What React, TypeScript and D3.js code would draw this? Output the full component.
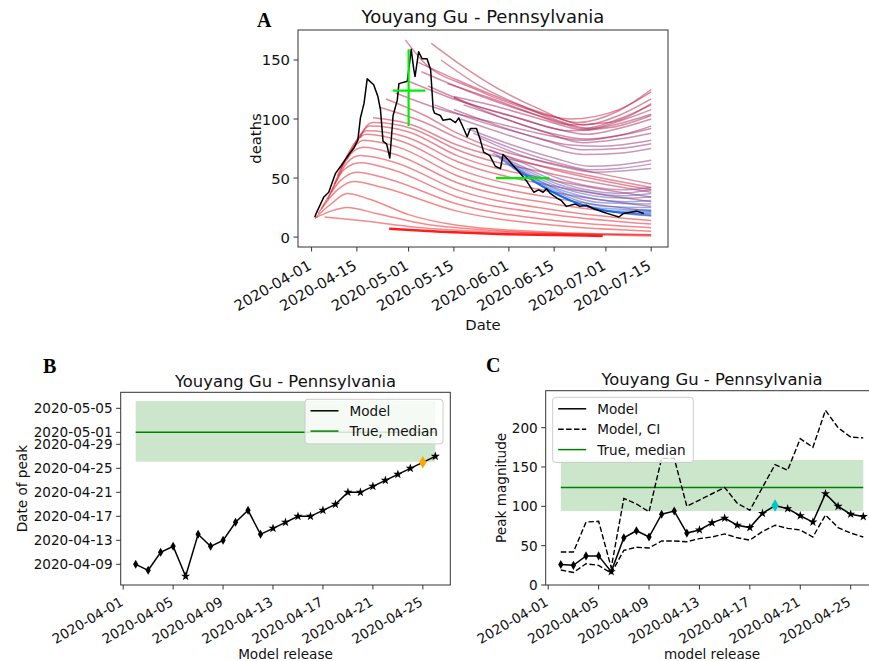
import { useEffect, useRef } from "react";
import * as d3 from "d3";

const FONT = "'DejaVu Sans', sans-serif";
const SERIF = "'Liberation Serif', 'DejaVu Serif', serif";
const TITLE = "Youyang Gu - Pennsylvania";

// ---- Panel A: days after 2020-04-01 -> deaths ----
const observedDeaths: [number, number][] = [
  [1, 17], [1.4, 20], [3.8, 34], [5.3, 38], [7.4, 54], [9, 60], [11, 68], [13, 75],
  [14.3, 82], [15.1, 101], [16.2, 113], [17.2, 134], [19.2, 129], [20.5, 119], [21.3, 108],
  [22.1, 81], [23.2, 79], [24.2, 67], [25.2, 103], [26.5, 116], [27, 130], [29.6, 132],
  [30.8, 159], [31.6, 142], [32, 136], [33.1, 157], [34.2, 151], [35.7, 151], [36.8, 142],
  [37.6, 108], [38, 105], [39.8, 103], [40.6, 99], [42.9, 100], [44.5, 97], [45.5, 101],
  [47, 92], [48.1, 85], [49.1, 92], [51, 92], [52.2, 82], [53.2, 72], [55.1, 69], [56.8, 60],
  [58.4, 58], [59.2, 70], [60.9, 65], [62.5, 60], [64.5, 54], [66.6, 47], [68.7, 38],
  [70.2, 40], [71.6, 38], [72.6, 41], [73.8, 37], [75.9, 33], [77.2, 31], [78.8, 26],
  [81.5, 28], [83, 26], [85, 27], [87.2, 24], [90.3, 21], [92.6, 19], [95, 17], [96.5, 20],
  [98.6, 21], [100.6, 22], [102.7, 20],
];

// forecasts ordered by release (earliest = red, latest = blue)
const earlyForecasts: [number, number][][] = [
  [[1, 16], [6, 28], [11, 37], [18, 32], [30, 19], [45, 10], [75, 4], [105, 2]],
  [[1, 16], [6, 22], [11, 25], [20, 20], [35, 11], [60, 5], [105, 1]],
  [[4, 17], [15, 14], [30, 9], [60, 4], [105, 2]],
  [[2, 20], [8, 40], [13, 47], [22, 42], [45, 22], [75, 10], [105, 5]],
  [[3, 24], [9, 48], [14, 55], [24, 49], [45, 28], [75, 14], [105, 8]],
  [[5, 32], [10, 57], [15, 63], [25, 57], [45, 34], [75, 19], [105, 11]],
  [[6, 38], [11, 63], [15, 69], [26, 63], [45, 40], [75, 23], [105, 14]],
  [[7, 45], [12, 70], [16, 76], [26, 70], [45, 46], [75, 28], [105, 18]],
  [[8, 52], [13, 76], [16, 82], [27, 76], [45, 52], [75, 33], [105, 22]],
  [[9, 58], [14, 82], [17, 87], [28, 81], [45, 58], [75, 38], [105, 26]],
  [[11, 66], [15, 86], [17, 90], [29, 85], [45, 64], [75, 43], [105, 30]],
  [[13, 75], [16, 90], [18, 94], [30, 89], [45, 69], [75, 48], [105, 34]],
  [[15, 84], [17, 94], [19, 97], [31, 92], [45, 74], [75, 53], [105, 38]],
  [[19, 101], [30, 96], [45, 78], [75, 58], [105, 42]],
  [[21, 110], [35, 97], [45, 84], [75, 57], [105, 40]],
  [[23, 117], [35, 103], [45, 88], [60, 72], [75, 62], [105, 45]],
];

const midForecasts: [number, number][][] = [
  [[29, 167], [34, 150], [50, 126], [65, 110], [80, 100], [95, 108], [105, 123]],
  [[37, 164], [45, 148], [55, 130], [70, 109], [82, 97], [95, 107], [105, 125]],
  [[33, 148], [45, 133], [60, 116], [75, 102], [84, 95], [95, 103], [105, 117]],
  [[42, 130], [55, 118], [68, 105], [80, 95], [92, 97], [105, 113]],
  [[34, 140], [48, 124], [62, 110], [76, 98], [84, 92], [95, 100], [105, 112]],
  [[40, 150], [52, 128], [66, 110], [78, 97], [86, 92], [96, 99], [105, 108]],
  [[44, 119], [58, 110], [72, 99], [84, 91], [95, 96], [105, 104]],
  [[36, 128], [50, 112], [65, 100], [80, 90], [93, 93], [105, 103]],
  [[30, 132], [45, 116], [60, 104], [75, 92], [85, 87], [95, 92], [105, 100]],
  [[26, 122], [40, 108], [55, 98], [70, 88], [84, 82], [95, 86], [105, 94]],
  [[47, 112], [60, 100], [74, 88], [85, 83], [95, 86], [105, 92]],
  [[44, 118], [58, 102], [72, 89], [84, 80], [95, 83], [105, 88]],
  [[38, 112], [52, 98], [66, 87], [80, 78], [90, 77], [105, 82]],
  [[44, 108], [58, 94], [72, 82], [84, 74], [95, 75], [105, 79]],
  [[46, 100], [60, 87], [72, 77], [84, 70], [95, 71], [105, 75]],
  [[48, 92], [62, 78], [75, 67], [86, 60], [95, 61], [105, 65]],
  [[50, 88], [63, 74], [76, 63], [86, 57], [95, 58], [105, 62]],
  [[52, 84], [64, 70], [77, 60], [87, 55], [96, 56], [105, 58]],
];

const lateForecasts: [number, number][][] = [
  [[55, 74], [66, 62], [76, 50], [86, 43], [96, 40], [105, 42]],
  [[56, 71], [65, 60], [75, 48], [85, 40], [95, 37], [105, 40]],
  [[57, 69], [66, 57], [76, 45], [86, 38], [96, 35], [105, 37]],
  [[58, 67], [67, 54], [77, 42], [87, 35], [96, 33], [105, 34]],
  [[59, 65], [68, 51], [78, 39], [88, 32], [97, 30], [105, 31]],
  [[60, 63], [70, 48], [80, 35], [90, 29], [105, 28]],
  [[61, 61], [71, 45], [81, 32], [91, 26], [105, 25]],
  [[62, 59], [72, 42], [82, 29], [92, 24], [105, 23]],
  [[64, 56], [74, 39], [84, 27], [94, 22], [105, 22]],
  [[66, 52], [76, 36], [86, 25], [96, 21], [105, 21]],
  [[68, 48], [78, 33], [88, 24], [98, 20], [105, 20]],
  [[70, 45], [80, 31], [90, 23], [100, 20], [105, 19]],
  [[72, 42], [82, 29], [92, 22], [100, 19], [105, 18]],
];

const floorForecast: [number, number][] = [[24, 7], [40, 4.5], [60, 2.5], [75, 1.8], [90, 1]];

// true peak (days after 2020-04-01 / deaths)
const truePeakDay = [25.1, 30, 35.2];
const truePeakMag = [94, 124, 159];
const halfDeclineDays = [57, 73.5];
const halfDeclineValue = 50;

const aXTicks = ["2020-04-01", "2020-04-15", "2020-05-01", "2020-05-15", "2020-06-01", "2020-06-15", "2020-07-01", "2020-07-15"];
const aYTicks = [0, 50, 100, 150];

// ---- Panels B, C ----
const releases = [
  "2020-04-02", "2020-04-03", "2020-04-04", "2020-04-05", "2020-04-06", "2020-04-07", "2020-04-08",
  "2020-04-09", "2020-04-10", "2020-04-11", "2020-04-12", "2020-04-13", "2020-04-14", "2020-04-15",
  "2020-04-16", "2020-04-17", "2020-04-18", "2020-04-19", "2020-04-20", "2020-04-21", "2020-04-22",
  "2020-04-23", "2020-04-24", "2020-04-25", "2020-04-26",
];
const peakDates = [
  "2020-04-09", "2020-04-08", "2020-04-11", "2020-04-12", "2020-04-07", "2020-04-14", "2020-04-12",
  "2020-04-13", "2020-04-16", "2020-04-18", "2020-04-14", "2020-04-15", "2020-04-16", "2020-04-17",
  "2020-04-17", "2020-04-18", "2020-04-19", "2020-04-21", "2020-04-21", "2020-04-22", "2020-04-23",
  "2020-04-24", "2020-04-25", "2020-04-26", "2020-04-27",
];
const peakMag = [26, 25, 37, 37, 17, 60, 69, 61, 90, 94, 66, 70, 79, 85, 76, 73, 91, 101, 97, 88, 80, 116, 100, 90, 87];
const peakMagHi = [42, 42, 80, 81, 22, 110, 103, 93, 161, 161, 100, 108, 116, 124, 104, 95, 124, 153, 146, 186, 175, 222, 200, 188, 187];
const peakMagLo = [19, 16, 27, 25, 15, 44, 48, 47, 56, 56, 55, 59, 61, 65, 60, 57, 68, 76, 72, 70, 61, 89, 73, 66, 61];
const markers = ["d", "d", "d", "d", "*", "d", "d", "d", "d", "d", "d", "*", "*", "*", "*", "*", "*", "*", "*", "*", "*", "*", "*", "*", "*"];
const bestDateRelease = "2020-04-25";
const bestMagRelease = "2020-04-19";

const bYTicks = ["2020-04-09", "2020-04-13", "2020-04-17", "2020-04-21", "2020-04-25", "2020-04-29", "2020-05-01", "2020-05-05"];
const bcXTicks = ["2020-04-01", "2020-04-05", "2020-04-09", "2020-04-13", "2020-04-17", "2020-04-21", "2020-04-25"];
const cYTicks = [0, 50, 100, 150, 200];

const parse = d3.utcParse("%Y-%m-%d");
const BASE = Date.UTC(2020, 3, 1);
const dayDate = (d: number) => new Date(BASE + d * 86400000);

type Box = { l: number; r: number; t: number; b: number };
type G = d3.Selection<SVGGElement, unknown, null, undefined>;

function frame(g: G, box: Box) {
  g.append("rect")
    .attr("x", box.l).attr("y", box.t)
    .attr("width", box.r - box.l).attr("height", box.b - box.t)
    .attr("fill", "none").attr("stroke", "#333").attr("stroke-width", 1);
}

function xTicks(g: G, box: Box, xs: number[], labels: string[], size: number) {
  xs.forEach((x, i) => {
    g.append("line").attr("x1", x).attr("x2", x).attr("y1", box.b).attr("y2", box.b + 4.5)
      .attr("stroke", "#333");
    g.append("text")
      .attr("transform", `translate(${x + 1},${box.b + size * 1.45}) rotate(-30)`)
      .attr("text-anchor", "end").attr("font-size", size).attr("fill", "#111")
      .text(labels[i]);
  });
}

function yTicks(g: G, box: Box, ys: number[], labels: string[], size: number) {
  ys.forEach((y, i) => {
    g.append("line").attr("x1", box.l - 4.5).attr("x2", box.l).attr("y1", y).attr("y2", y)
      .attr("stroke", "#333");
    g.append("text").attr("x", box.l - 8).attr("y", y)
      .attr("text-anchor", "end").attr("dominant-baseline", "central")
      .attr("font-size", size).attr("fill", "#111").text(labels[i]);
  });
}

function texts(g: G, box: Box, title: string, xl: string, yl: string, opts: { ts: number; ls: number; tY: number; xY: number; yX: number }) {
  const cx = (box.l + box.r) / 2;
  g.append("text").attr("x", cx).attr("y", opts.tY).attr("text-anchor", "middle")
    .attr("font-size", opts.ts).attr("fill", "#111").text(title);
  g.append("text").attr("x", cx).attr("y", opts.xY).attr("text-anchor", "middle")
    .attr("font-size", opts.ls).attr("fill", "#111").text(xl);
  g.append("text").attr("transform", `translate(${opts.yX},${(box.t + box.b) / 2}) rotate(-90)`)
    .attr("text-anchor", "middle").attr("font-size", opts.ls).attr("fill", "#111").text(yl);
}

function legend(g: G, x: number, y: number, w: number, rowH: number, items: { label: string; color: string; dash?: string }[], size: number) {
  g.append("rect").attr("x", x).attr("y", y).attr("width", w).attr("height", rowH * items.length + 4)
    .attr("rx", 3).attr("fill", "white").attr("fill-opacity", 0.8).attr("stroke", "#cccccc");
  items.forEach((it, i) => {
    const cy = y + 11.5 + i * rowH;
    g.append("line").attr("x1", x + 5.5).attr("x2", x + 33.5).attr("y1", cy).attr("y2", cy)
      .attr("stroke", it.color).attr("stroke-width", 1.5).attr("stroke-dasharray", it.dash ?? null);
    g.append("text").attr("x", x + 44.5).attr("y", cy).attr("dominant-baseline", "central")
      .attr("font-size", size).attr("fill", "#111").text(it.label);
  });
}

function markerPath(kind: string, best: boolean) {
  if (best) return d3.symbol().type(d3.symbolDiamond).size(46)();
  if (kind === "*") return d3.symbol().type(d3.symbolStar).size(26)();
  return d3.symbol().type(d3.symbolDiamond).size(24)();
}

export default function App() {
  const svgRef = useRef<SVGSVGElement>(null);

  useEffect(() => {
    if (!svgRef.current) return;
    const svg = d3.select(svgRef.current);
    svg.selectAll("*").remove();
    svg.append("rect").attr("width", 869).attr("height", 661).attr("fill", "white");
    const root = svg.append("g").attr("font-family", FONT) as unknown as G;

    // ---------------- Panel A ----------------
    const A: Box = { l: 298, r: 668, t: 30, b: 247 };
    const xA = d3.scaleUtc().domain([dayDate(-4.2), dayDate(110.2)]).range([A.l, A.r]);
    const yA = d3.scaleLinear().domain([-8.4, 175.4]).range([A.b, A.t]);
    const lineA = d3.line<[number, number]>()
      .x((d) => xA(dayDate(d[0]))).y((d) => yA(d[1]))
      .curve(d3.curveMonotoneX);

    const forecasts = [...earlyForecasts, ...midForecasts, ...lateForecasts];
    const n = forecasts.length - 1;
    const lateStart = earlyForecasts.length + midForecasts.length;
    const colorA = d3.scaleLinear<string>()
      .domain([0, n * 0.3, n * 0.55, lateStart - 1, lateStart + 4, n])
      .range(["#f21212", "#c81838", "#a0205a", "#8a3a8a", "#2a5ee0", "#0a66f0"])
      .interpolate(d3.interpolateRgb);

    const gA = root.append("g");
    forecasts.forEach((c, i) => {
      gA.append("path").attr("d", lineA(c)).attr("fill", "none")
        .attr("stroke", colorA(i)).attr("stroke-opacity", 0.5).attr("stroke-width", 1.5);
    });
    gA.append("path").attr("d", lineA(floorForecast)).attr("fill", "none")
      .attr("stroke", "#ff1010").attr("stroke-opacity", 0.95).attr("stroke-width", 2.5);

    const obsLine = d3.line<[number, number]>()
      .x((d) => xA(dayDate(d[0]))).y((d) => yA(d[1]));
    gA.append("path").attr("d", obsLine(observedDeaths)).attr("fill", "none")
      .attr("stroke", "black").attr("stroke-width", 1.5).attr("stroke-linejoin", "round");

    const lime = "#00ee00";
    gA.append("line")
      .attr("x1", xA(dayDate(truePeakDay[1]))).attr("x2", xA(dayDate(truePeakDay[1])))
      .attr("y1", yA(truePeakMag[0])).attr("y2", yA(truePeakMag[2]))
      .attr("stroke", lime).attr("stroke-width", 2.2);
    gA.append("line")
      .attr("x1", xA(dayDate(truePeakDay[0]))).attr("x2", xA(dayDate(truePeakDay[2])))
      .attr("y1", yA(truePeakMag[1])).attr("y2", yA(truePeakMag[1]))
      .attr("stroke", lime).attr("stroke-width", 2.2);
    gA.append("line")
      .attr("x1", xA(dayDate(halfDeclineDays[0]))).attr("x2", xA(dayDate(halfDeclineDays[1])))
      .attr("y1", yA(halfDeclineValue)).attr("y2", yA(halfDeclineValue))
      .attr("stroke", lime).attr("stroke-width", 2.2);

    frame(gA, A);
    xTicks(gA, A, aXTicks.map((t) => xA(parse(t)!)), aXTicks, 14.8);
    yTicks(gA, A, aYTicks.map((v) => yA(v)), aYTicks.map(String), 14.8);
    texts(gA, A, TITLE, "Date", "deaths", { ts: 18, ls: 14.8, tY: 23, xY: 330, yX: 261 });
    gA.append("text").attr("x", 257).attr("y", 26.5).attr("font-family", SERIF)
      .attr("font-weight", "bold").attr("font-size", 20).text("A");

    // ---------------- Panel B ----------------
    const B: Box = { l: 120.7, r: 450.3, t: 392.3, b: 585 };
    const xB = d3.scaleUtc().domain([dayDate(-0.2), dayDate(26.2)]).range([B.l, B.r]);
    const yB = d3.scaleUtc().domain([dayDate(4.55), dayDate(36.67)]).range([B.b, B.t]);
    const gB = root.append("g");
    const rel = releases.map((r) => parse(r)!);
    const x0 = rel[0], x1 = rel[rel.length - 1];

    gB.append("rect")
      .attr("x", xB(x0)).attr("width", xB(x1) - xB(x0))
      .attr("y", yB(dayDate(truePeakDay[2]))).attr("height", yB(dayDate(truePeakDay[0])) - yB(dayDate(truePeakDay[2])))
      .attr("fill", "green").attr("fill-opacity", 0.2);
    gB.append("line").attr("x1", xB(x0)).attr("x2", xB(x1))
      .attr("y1", yB(dayDate(truePeakDay[1]))).attr("y2", yB(dayDate(truePeakDay[1])))
      .attr("stroke", "green").attr("stroke-width", 1.5);

    const ptsB = rel.map((r, i) => [xB(r), yB(parse(peakDates[i])!)] as [number, number]);
    gB.append("path").attr("d", d3.line()(ptsB)).attr("fill", "none")
      .attr("stroke", "black").attr("stroke-width", 1.5);
    ptsB.forEach(([x, y], i) => {
      const best = releases[i] === bestDateRelease;
      gB.append("path").attr("d", markerPath(markers[i], best))
        .attr("transform", `translate(${x},${y})`)
        .attr("fill", best ? "orange" : "black");
    });

    frame(gB, B);
    xTicks(gB, B, bcXTicks.map((t) => xB(parse(t)!)), bcXTicks, 13.6);
    yTicks(gB, B, bYTicks.map((t) => yB(parse(t)!)), bYTicks, 13.6);
    texts(gB, B, TITLE, "Model release", "Date of peak", { ts: 16.4, ls: 13.6, tY: 386.5, xY: 659, yX: 27 });
    legend(gB, 305, 399.3, 138, 20.3, [
      { label: "Model", color: "black" },
      { label: "True, median", color: "green" },
    ], 13.6);
    gB.append("text").attr("x", 43).attr("y", 373).attr("font-family", SERIF)
      .attr("font-weight", "bold").attr("font-size", 20).text("B");

    // ---------------- Panel C ----------------
    const C: Box = { l: 545.7, r: 878.4, t: 390.7, b: 585 };
    const xC = d3.scaleUtc().domain([dayDate(-0.2), dayDate(26.2)]).range([C.l, C.r]);
    const yC = d3.scaleLinear().domain([0, 247]).range([C.b, C.t]);
    const gC = root.append("g");

    gC.append("rect")
      .attr("x", xC(x0)).attr("width", xC(x1) - xC(x0))
      .attr("y", yC(truePeakMag[2])).attr("height", yC(truePeakMag[0]) - yC(truePeakMag[2]))
      .attr("fill", "green").attr("fill-opacity", 0.2);
    gC.append("line").attr("x1", xC(x0)).attr("x2", xC(x1))
      .attr("y1", yC(truePeakMag[1])).attr("y2", yC(truePeakMag[1]))
      .attr("stroke", "green").attr("stroke-width", 1.5);

    const lineC = d3.line<number>().x((_, i) => xC(rel[i])).y((v) => yC(v));
    gC.append("path").attr("d", lineC(peakMagHi)).attr("fill", "none")
      .attr("stroke", "black").attr("stroke-width", 1.4).attr("stroke-dasharray", "5.5,2.4");
    gC.append("path").attr("d", lineC(peakMagLo)).attr("fill", "none")
      .attr("stroke", "black").attr("stroke-width", 1.4).attr("stroke-dasharray", "5.5,2.4");
    gC.append("path").attr("d", lineC(peakMag)).attr("fill", "none")
      .attr("stroke", "black").attr("stroke-width", 1.5);
    peakMag.forEach((v, i) => {
      const best = releases[i] === bestMagRelease;
      gC.append("path").attr("d", markerPath(markers[i], best))
        .attr("transform", `translate(${xC(rel[i])},${yC(v)})`)
        .attr("fill", best ? "#00c8c8" : "black");
    });

    frame(gC, C);
    xTicks(gC, C, bcXTicks.map((t) => xC(parse(t)!)), bcXTicks, 13.6);
    yTicks(gC, C, cYTicks.map((v) => yC(v)), cYTicks.map(String), 13.6);
    texts(gC, C, TITLE, "model release", "Peak magnitude", { ts: 16.4, ls: 13.6, tY: 384.5, xY: 659, yX: 506 });
    legend(gC, 552.7, 397.3, 140.6, 20.4, [
      { label: "Model", color: "black" },
      { label: "Model, CI", color: "black", dash: "5.5,2.4" },
      { label: "True, median", color: "green" },
    ], 13.6);
    gC.append("text").attr("x", 486).attr("y", 372).attr("font-family", SERIF)
      .attr("font-weight", "bold").attr("font-size", 20).text("C");
  }, []);

  return (
    <div style={{ position: "absolute", left: 0, top: 0 }}>
      <svg ref={svgRef} width={869} height={661} style={{ display: "block" }} />
    </div>
  );
}
